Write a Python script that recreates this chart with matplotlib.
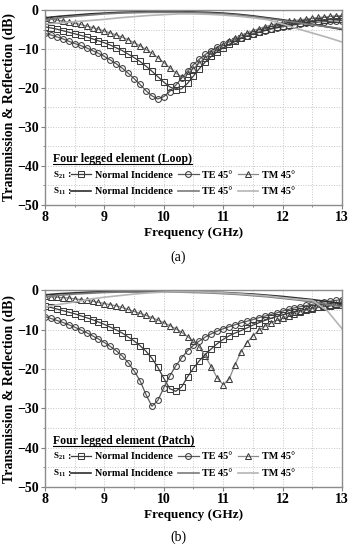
import numpy as np
import matplotlib
matplotlib.use('Agg')
import matplotlib.pyplot as plt
from matplotlib.ticker import MultipleLocator
from matplotlib.lines import Line2D

plt.rcParams['font.family'] = ['Liberation Serif', 'DejaVu Serif']
plt.rcParams['mathtext.fontset'] = 'custom'
plt.rcParams['mathtext.rm'] = 'Liberation Serif:bold'
plt.rcParams['mathtext.bf'] = 'Liberation Serif:bold'
plt.rcParams['mathtext.it'] = 'Liberation Serif:bold'

# frequency grids (GHz)
f21 = np.round(np.arange(8.0, 13.01, 0.1), 2)   # S21 marker curves
f11 = np.round(np.arange(8.0, 13.01, 0.25), 2)  # S11 lines

# ---- (a) loop ----
a_s21_normal = [-4.3, -4.6, -4.9, -5.3, -5.7, -6.1, -6.5, -6.9, -7.4, -7.9,
                -8.4, -9.0, -9.7, -10.4, -11.3, -12.2, -13.2, -14.4, -15.7, -17.1,
                -18.5, -19.7, -20.4, -20.2, -18.8, -16.9, -15.0, -13.3, -11.9, -10.7,
                -9.7, -8.8, -8.0, -7.3, -6.7, -6.2, -5.7, -5.2, -4.8, -4.4,
                -4.1, -3.8, -3.5, -3.3, -3.1, -2.9, -2.7, -2.6, -2.4, -2.3, -2.2]
a_s21_te = [-6.0, -6.4, -6.9, -7.4, -8.0, -8.6, -9.1, -9.7, -10.4, -11.1,
            -11.9, -12.8, -13.8, -14.9, -16.2, -17.6, -19.1, -20.7, -22.0, -22.8,
            -22.2, -20.9, -19.3, -17.5, -15.7, -14.0, -12.6, -11.4, -10.4, -9.5,
            -8.8, -8.2, -7.6, -7.1, -6.6, -6.1, -5.7, -5.3, -4.9, -4.6,
            -4.3, -4.0, -3.8, -3.6, -3.4, -3.3, -3.1, -3.0, -2.9, -2.8, -2.7]
a_s21_tm = [-2.1, -2.3, -2.6, -2.8, -3.1, -3.4, -3.7, -4.1, -4.5, -4.9,
            -5.4, -5.9, -6.4, -7.0, -7.6, -8.4, -9.2, -10.1, -11.1, -12.2,
            -13.5, -14.8, -16.1, -17.2, -16.3, -15.0, -13.6, -12.2, -11.0, -9.9,
            -8.9, -8.0, -7.2, -6.5, -5.9, -5.3, -4.8, -4.3, -3.9, -3.5,
            -3.2, -2.9, -2.7, -2.5, -2.3, -2.1, -1.9, -1.8, -1.6, -1.5, -1.4]
a_s11_normal = [-2.0, -1.6, -1.3, -1.0, -0.8, -0.6, -0.5, -0.4, -0.4, -0.4, -0.5,
                -0.6, -0.8, -1.1, -1.5, -2.0, -2.5, -3.1, -3.7, -4.3, -5.0]
a_s11_te = [-2.6, -2.0, -1.6, -1.3, -1.0, -0.8, -0.7, -0.6, -0.6, -0.6, -0.7,
            -0.8, -1.0, -1.3, -1.7, -2.2, -2.7, -3.2, -3.8, -4.3, -4.8]
a_s11_tm = [-3.6, -3.3, -3.0, -2.7, -2.4, -2.0, -1.7, -1.4, -1.2, -1.0, -1.0,
            -1.1, -1.3, -1.6, -2.0, -2.5, -3.6, -4.8, -5.9, -7.0, -8.2]

# ---- (b) patch ----
b_s21_normal = [-4.1, -4.4, -4.8, -5.2, -5.6, -6.0, -6.5, -7.0, -7.5, -8.1,
                -8.7, -9.4, -10.1, -10.9, -11.9, -12.9, -14.1, -15.5, -17.3, -19.6,
                -22.4, -25.0, -25.7, -24.6, -22.0, -19.8, -17.9, -16.3, -14.9, -13.6,
                -12.5, -11.6, -10.9, -10.3, -9.6, -8.9, -8.3, -7.7, -7.2, -6.7,
                -6.3, -5.9, -5.5, -5.2, -4.9, -4.6, -4.4, -4.2, -4.0, -3.8, -3.7]
b_s21_te = [-6.7, -7.2, -7.7, -8.2, -8.8, -9.4, -10.1, -10.8, -11.6, -12.4,
            -13.3, -14.3, -15.4, -16.7, -18.4, -20.5, -23.0, -26.5, -29.5, -28.0,
            -24.8, -21.8, -19.3, -17.2, -15.4, -14.0, -12.9, -11.9, -11.1, -10.4,
            -9.8, -9.3, -8.8, -8.3, -7.9, -7.5, -7.0, -6.6, -6.2, -5.8,
            -5.3, -4.9, -4.5, -4.2, -3.9, -3.6, -3.3, -3.0, -2.8, -2.6, -2.4]
b_s21_tm = [-1.6, -1.7, -1.8, -1.9, -2.0, -2.2, -2.4, -2.6, -2.8, -3.1,
            -3.4, -3.7, -4.0, -4.4, -4.9, -5.4, -5.9, -6.4, -7.0, -7.6,
            -8.3, -9.0, -9.8, -10.7, -11.8, -13.0, -14.5, -16.8, -19.5, -22.3,
            -24.0, -22.6, -18.9, -15.7, -13.3, -11.6, -10.2, -9.2, -8.4, -7.7,
            -7.1, -6.5, -6.0, -5.5, -5.1, -4.7, -4.3, -4.0, -3.7, -3.4, -3.1]
b_s11_normal = [-1.2, -0.9, -0.7, -0.5, -0.4, -0.3, -0.3, -0.3, -0.3, -0.3, -0.4,
                -0.5, -0.6, -0.8, -1.0, -1.3, -1.6, -2.0, -2.4, -2.9, -3.4]
b_s11_te = [-1.7, -1.3, -1.0, -0.8, -0.6, -0.5, -0.5, -0.5, -0.5, -0.5, -0.6,
            -0.7, -0.9, -1.1, -1.4, -1.7, -2.1, -2.5, -3.0, -3.6, -4.2]
b_s11_tm = [-4.3, -3.6, -3.0, -2.3, -1.8, -1.4, -1.0, -0.7, -0.5, -0.4, -0.4,
            -0.5, -0.7, -0.9, -1.2, -1.5, -1.9, -2.3, -2.6, -5.2, -9.8]

xticks = [8, 9, 10, 11, 12, 13]
yticks = [0, -10, -20, -30, -40, -50]

bold = {'family': 'Liberation Serif', 'weight': 'bold'}
titles = []


def panel(ax, s21n, s21te, s21tm, s11n, s11te, s11tm, title):
    mk = dict(mfc='none', ms=4.2, mew=0.75, lw=0.9)
    h1, = ax.plot(f21, s21n, '-s', color='#3c3c3c', mec='#3c3c3c', **mk)
    h2, = ax.plot(f21, s21te, '-o', color='#5a5a5a', mec='#3c3c3c', **mk)
    h3, = ax.plot(f21, s21tm, '-^', color='#8a8a8a', mec='#3c3c3c', **mk)
    h4, = ax.plot(f11, s11n, '-', color='#2e2e2e', lw=1.2)
    h5, = ax.plot(f11, s11te, '-', color='#7a7a7a', lw=1.2)
    h6, = ax.plot(f11, s11tm, '-', color='#b5b5b5', lw=1.2)

    ax.set_xlim(8, 13)
    ax.set_ylim(-50, 0)
    ax.set_xticks(xticks)
    ax.set_yticks(yticks)
    ax.xaxis.set_minor_locator(MultipleLocator(0.5))
    ax.yaxis.set_minor_locator(MultipleLocator(5))
    ax.grid(True, which='both', ls=':', color='#c4c4c4', lw=0.7)
    ax.set_axisbelow(True)
    ax.tick_params(which='major', direction='out', length=3, width=0.8,
                   color='#808080', labelsize=10, pad=1.5)
    ax.tick_params(which='minor', direction='out', length=1.5, width=0.6,
                   color='#808080')
    for lab in ax.get_xticklabels() + ax.get_yticklabels():
        lab.set_fontweight('bold')
    for sp in ax.spines.values():
        sp.set_color('#8c8c8c')
        sp.set_linewidth(1.0)
    ax.set_xlabel('Frequency (GHz)', fontdict=dict(bold, size=9.5), labelpad=2)
    ax.set_ylabel('Transmission & Reflection (dB)', fontdict=dict(bold, size=10),
                  labelpad=1)

    t = ax.text(0.027, 0.236, title, transform=ax.transAxes, fontsize=8.5,
                va='center', ha='left', fontdict=bold)
    titles.append((ax, t))
    for y, lab in [(0.154, r'S$_{21}$'), (0.068, r'S$_{11}$')]:
        ax.text(0.027, y, lab, transform=ax.transAxes, fontsize=6.5,
                va='center', ha='left', fontdict=bold)
        ax.text(0.074, y, ':', transform=ax.transAxes, fontsize=7.5,
                va='center', ha='left', fontdict=bold)
    prop = dict(family='Liberation Serif', weight='bold', size=7.3)
    kw = dict(ncol=3, frameon=False, prop=prop, handlelength=2.0,
              handletextpad=0.35, columnspacing=0.55, borderpad=0,
              borderaxespad=0, loc='center left')
    lg1 = ax.legend([h1, h2, h3], ['Normal Incidence', 'TE 45°', 'TM 45°'],
                    bbox_to_anchor=(0.088, 0.154), **kw)
    ax.add_artist(lg1)
    ax.legend([h4, h5, h6], ['Normal Incidence', 'TE 45°', 'TM 45°'],
              bbox_to_anchor=(0.088, 0.068), **kw)


fig = plt.figure(figsize=(3.57, 5.5), dpi=100)
ax1 = fig.add_axes([0.126, 0.6273, 0.832, 0.3545])
ax2 = fig.add_axes([0.126, 0.1145, 0.832, 0.358])

panel(ax1, a_s21_normal, a_s21_te, a_s21_tm, a_s11_normal, a_s11_te, a_s11_tm,
      'Four legged element (Loop)')
panel(ax2, b_s21_normal, b_s21_te, b_s21_tm, b_s11_normal, b_s11_te, b_s11_tm,
      'Four legged element (Patch)')

fig.text(0.5, 1 - 257 / 550, '(a)', ha='center', va='center', fontsize=10,
         family='Liberation Serif')
fig.text(0.5, 1 - 537 / 550, '(b)', ha='center', va='center', fontsize=10,
         family='Liberation Serif')

# underline the legend titles
fig.canvas.draw()
r = fig.canvas.get_renderer()
for ax, t in titles:
    bb = t.get_window_extent(r).transformed(ax.transAxes.inverted())
    ax.add_line(Line2D([bb.x0, bb.x1], [bb.y0 + 0.004, bb.y0 + 0.004],
                       transform=ax.transAxes, color='black', lw=0.8))

fig.savefig('out.png', dpi=100)
